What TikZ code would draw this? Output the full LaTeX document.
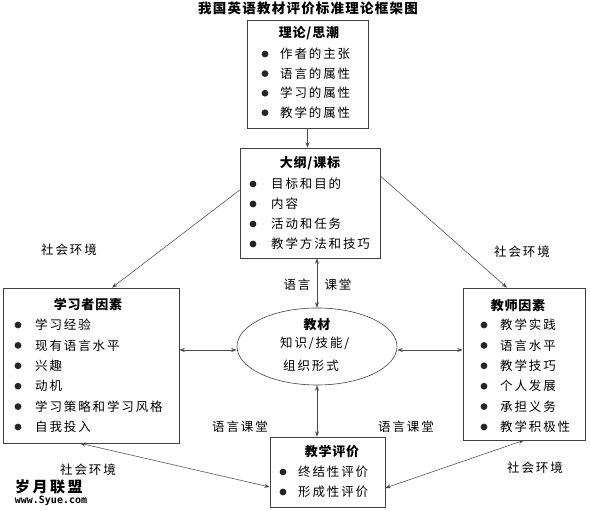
\documentclass[tikz,border=0pt]{standalone}
\usepackage{fontspec}
\setmainfont{Noto Sans CJK SC}
\newfontfamily\bodyf{Noto Sans CJK SC}[LetterSpace=15]
\newfontfamily\headf{Noto Sans CJK SC}[LetterSpace=6]
\newfontfamily\titlef{Noto Sans CJK SC}[LetterSpace=9]
\newfontfamily\wmf{DejaVu Sans Mono}
\usetikzlibrary{shapes.geometric,arrows.meta}
\begin{document}
\begin{tikzpicture}[x=1pt,y=1pt,
  box/.style={draw=black!75, line width=0.6pt, inner sep=0pt},
  hd/.style={font=\headf\fontsize{13}{13}\selectfont\bfseries, inner sep=0pt},
  item/.style={font=\bodyf\fontsize{12.5}{12.5}\selectfont, anchor=west, inner sep=0pt},
  lbl/.style={font=\bodyf\fontsize{12.5}{12.5}\selectfont, inner sep=0pt},
  arr/.style={draw=black!70, line width=0.55pt, -{Stealth[length=5.5pt,width=4pt]}},
  darr/.style={draw=black!70, line width=0.55pt, {Stealth[length=5.5pt,width=4pt]}-{Stealth[length=5.5pt,width=4pt]}},
  dot/.style={fill=black!85}]
\useasboundingbox (0,0) rectangle (590,511);
\fill[white] (0,0) rectangle (590,511);

% title
\node[font=\titlef\fontsize{13.5}{13.5}\selectfont\bfseries, inner sep=0pt] (title) at (308,503) {我国英语教材评价标准理论框架图};

% boxes
\node[box, minimum width=121pt, minimum height=108pt] (b1) at (307.5,437) {};
\node[box, minimum width=140pt, minimum height=110pt] (b2) at (310,308) {};
\node[box, minimum width=176pt, minimum height=155pt] (bl) at (91,145.5) {};
\node[box, minimum width=122pt, minimum height=152pt] (bt) at (524,147) {};
\node[box, minimum width=115pt, minimum height=70pt] (be) at (327.5,39) {};
\node[box, ellipse, minimum width=160pt, minimum height=77pt] (el) at (317,164.5) {};

% box 1
\node[hd] (h1) at (309,478) {理论/思潮};
\foreach \t [count=\i] in {作者的主张,语言的属性,学习的属性,教学的属性} {
  \fill[dot] (265,{457-19.6*(\i-1)}) circle (3.4pt);
  \node[item] (a\i) at (280,{457-19.6*(\i-1)}) {\t};
}
% box 2
\node[hd] (h2) at (310,348) {大纲/课标};
\foreach \t [count=\i] in {目标和目的,内容,活动和任务,教学方法和技巧} {
  \fill[dot] (253,{327-20*(\i-1)}) circle (3.4pt);
  \node[item] (c\i) at (271,{327-20*(\i-1)}) {\t};
}
% learner
\node[hd] (h3) at (88,206) {学习者因素};
\foreach \t [count=\i] in {学习经验,现有语言水平,兴趣,动机,学习策略和学习风格,自我投入} {
  \fill[dot] (18,{186-20.4*(\i-1)}) circle (3.4pt);
  \node[item] (l\i) at (35,{186-20.4*(\i-1)}) {\t};
}
% teacher
\node[hd] (h4) at (518,205) {教师因素};
\foreach \t [count=\i] in {教学实践,语言水平,教学技巧,个人发展,承担义务,教学积极性} {
  \fill[dot] (484,{186-20.4*(\i-1)}) circle (3.4pt);
  \node[item] (t\i) at (500,{186-20.4*(\i-1)}) {\t};
}
% evaluation
\node[hd] (h5) at (332,59) {教学评价};
\foreach \t [count=\i] in {终结性评价,形成性评价} {
  \fill[dot] (283,{39-20*(\i-1)}) circle (3.4pt);
  \node[item] (e\i) at (298,{39-20*(\i-1)}) {\t};
}
% ellipse text
\node[hd] (h6) at (317,186) {教材};
\node[item] (m1) at (280,168) {知识/技能/};
\node[item] (m2) at (283,145) {组织形式};

% labels
\node[lbl] (s1) at (69,261) {社会环境};
\node[lbl] (s2) at (522,259) {社会环境};
\node[lbl] (s3) at (88,41) {社会环境};
\node[lbl] (s4) at (535,43) {社会环境};
\node[lbl] (k1) at (240,84) {语言课堂};
\node[lbl] (k2) at (406,84) {语言课堂};
\node[lbl] (k3) at (297,226) {语言};
\node[lbl] (k4) at (338,226) {课堂};

% watermark
\node[font=\fontsize{15}{15}\selectfont\bfseries, inner sep=0pt] (w1) at (49,24) {岁\,月\,联\,盟};
\node[font=\wmf\bfseries\fontsize{10}{10}\selectfont, inner sep=0pt] (w2) at (51,10) {www.Syue.com};

% connectors
\draw[arr] (b1.south) -- (b1.south |- b2.north);
\draw[darr] (el.north) -- (el.north |- b2.south);
\draw[arr] ([yshift=13pt]b2.west) -- ([xshift=21pt]bl.north);
\draw[arr] ([yshift=27pt]b2.east) -- ([xshift=-17pt]bt.north);
\draw[darr] ([yshift=-3.5pt]el.west) -- ([yshift=-3.5pt]el.west -| bl.east);
\draw[darr] ([yshift=-3.5pt]el.east) -- ([yshift=-3.5pt]el.east -| bt.west);
\draw[darr] (el.south) -- (el.south |- be.north);
\draw[darr] ([xshift=-11pt]bl.south) -- ([yshift=-15pt]be.west);
\draw[darr] (bt.south) -- ([yshift=-16pt]be.east);
\end{tikzpicture}
\end{document}
